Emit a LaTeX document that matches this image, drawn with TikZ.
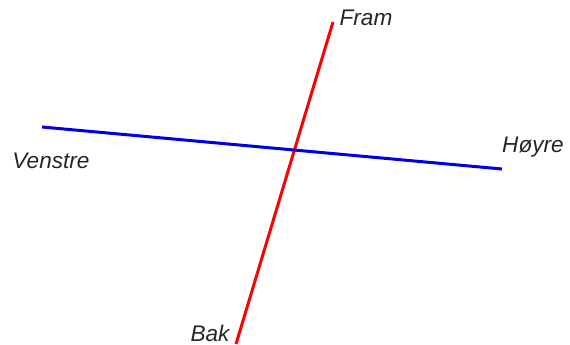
\documentclass[tikz,border=0pt]{standalone}
\usepackage{fontspec}
\setmainfont{Liberation Sans}
\begin{document}
\begin{tikzpicture}[
    x=1pt, y=-1pt,
    axis/.style={
        line width=3pt,
        line cap=butt
    },
    label/.style={
        font=\fontsize{22.6}{26}\selectfont\itshape,
        text=black!85,
        inner sep=0pt,
        anchor=base
    }
]
\useasboundingbox (0,0) rectangle (570,345);

% Endepunkter
\coordinate (fram) at (333,22);
\coordinate (bak) at (236,344);
\coordinate (venstre) at (42,127);
\coordinate (hoyre) at (502,169);

% Akser
\draw[axis, red] (bak) -- (fram);
\draw[axis, blue!90!black] (venstre) -- (hoyre);

% Tekster
\node[label] (framtxt) at (366,26) {Fram};
\node[label] (venstretxt) at (51,168) {Venstre};
\node[label] (hoyretxt) at (533,152) {Høyre};
\node[label] (baktxt) at (210,341) {Bak};

\end{tikzpicture}
\end{document}
